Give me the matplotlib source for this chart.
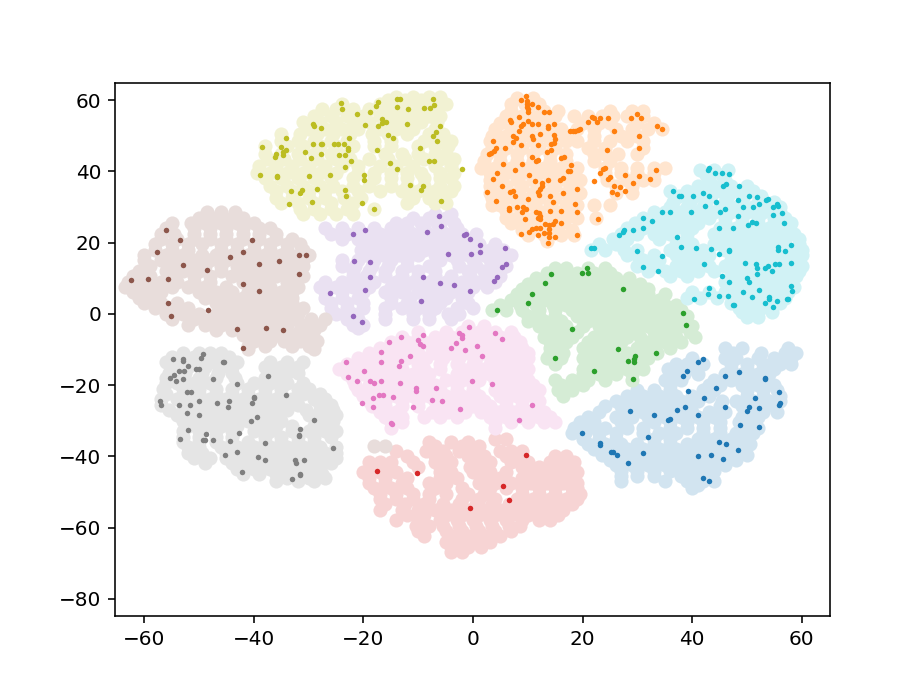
import matplotlib
matplotlib.use("Agg")
import matplotlib.pyplot as plt
from matplotlib.colors import to_rgb

# Labelled samples: (x, y)
olive_points = [(-24.1,59.1),(-23.9,57.5),(-17.3,59.5),(-17.8,58.3),(-21.2,56.2),(-18.9,56.6),(-13.9,60.4),(-13.4,60.4),(-7.3,60.4),(-7.1,58.7),(-7.8,57.8),(-8.9,57.8),(-11.8,57.5),(-13.9,58.2),(-16.7,54.8),(-16.7,53.7),(-15.9,53.8),(-17.3,52.6),(-19.7,53),(-12,53.4),(-6,52.6),(-6.8,51),(-7.3,49.8),(-6.6,48.5),(-15.5,50.1),(-14.7,49.3),(-29.3,53.4),(-29.1,52.6),(-27.8,52.2),(-34.1,49.4),(-22.6,49.4),(-38.6,46.9),(-35.1,46.9),(-34.1,46.1),(-34.6,45.3),(-34.6,44.5),(-35.9,44.9),(-36.2,44),(-30.7,45.3),(-29.6,43.7),(-29.3,47.7),(-27.8,47.7),(-27.5,47.7),(-25.4,47.7),(-24.6,47.7),(-23.6,47.7),(-22.8,46.5),(-22.8,45.9),(-27.8,44.9),(-24.4,44.5),(-23.3,44.5),(-22.3,42.8),(-23.3,41.2),(-17.6,46.1),(-15.2,42.4),(-13.9,40.8),(-9.7,46.5),(-8.1,42.8),(-7.1,42.8),(-2.1,40.8),(-38.9,39.1),(-35.7,38.8),(-35.7,38.3),(-29.9,38.8),(-26.2,39.1),(-19.9,39.1),(-19.9,37.5),(-33.3,34.4),(-31.2,34.7),(-31.5,33.9),(-28.4,35.1),(-23.3,34.7),(-23.1,33),(-33.6,30.7),(-29.4,31.4),(-20.2,31),(-18.1,29.4),(-11.5,36.3),(-9.2,36),(-9.5,34.7),(-5.8,31.8)]
orange_points = [(9.7,61.2),(8.7,60),(9.8,59.8),(10.7,59),(9.8,58.9),(9.8,58.1),(10.1,57.5),(10,56.8),(11.8,58.2),(12.9,56.7),(13.8,56.7),(8.4,55.4),(6.7,54.4),(7,53.9),(10,54.2),(10.7,53.4),(11.8,53.4),(9.2,53.4),(8.7,52.8),(8.4,51.4),(14.7,53.4),(13.7,52.8),(13.7,52.1),(12.3,50.6),(10.7,50),(11,49),(7.3,50),(7.9,49.5),(7.3,48.2),(3.6,48.5),(14.7,50.1),(15,49),(14.7,48.1),(14.2,47.6),(8.7,47.3),(11.8,47.3),(5.8,46.5),(4.1,46.5),(3.8,45.7),(3.3,45.2),(2.9,44.9),(14.2,46.1),(13.4,45.3),(10.7,44),(11.8,43.3),(11.5,42.8),(16,43.7),(16.6,44),(5.5,42.1),(8.9,42.1),(17.8,41.7),(7.6,40.4),(4.4,39.6),(3.6,37.9),(10.2,38.9),(17.4,40),(17.6,40),(16.5,38),(15.8,37.5),(13.6,37.5),(11.3,37.2),(12.6,36.7),(12.6,35.9),(12.3,35),(11.8,34.3),(12,33.5),(5.2,36),(2.6,34.3),(6.7,34.3),(7.3,34.6),(7.6,33),(4.2,31.8),(10,32.2),(14.1,33),(14.6,31.4),(16.5,33.9),(18.9,35.1),(18.6,30.7),(18.9,28.6),(6.6,29.8),(6.6,29.2),(8.1,29.9),(9.2,29.9),(9.7,29.5),(8.9,28.6),(9.5,26.6),(11.5,28.6),(12,28.2),(12.3,27.4),(11.8,26.9),(12.3,26.6),(14.1,29),(16,29),(15,26.1),(14.6,25.3),(16,25.4),(13.1,25.3),(12.3,24.1),(13.9,24.9),(13.9,23.7),(13.9,22.7),(13.9,21.7),(13.7,20),(12.9,22.7),(11.4,24),(10.7,23.7),(10.2,22.9),(8.7,22.5),(11.8,22),(15,21.7),(18.9,22),(22.8,26.6),(17.6,51.4),(18.2,51.4),(18.6,51.4),(19.2,51.6),(19.5,52),(21.7,55.4),(22,54.9),(23.1,54.9),(24.6,54.9),(21,53.9),(22.6,53.9),(25.7,51.4),(28.9,54.9),(30,56.2),(30.7,54.9),(33.6,52.7),(34.4,51.8),(30.2,49.8),(30.2,46.5),(24.4,46.1),(24,41),(23.7,40.8),(23.1,39.6),(22,37.2),(25,38.4),(24.6,37.9),(27.8,39.1),(30.2,38.8),(32.2,37.9),(33.3,40.4),(29.1,36.7),(25.7,36),(26.8,35.5),(25.4,34.3),(26.2,33.7),(27.8,34.6)]
cyan_points = [(43,41),(42.8,40.4),(44.1,39.6),(45.4,39.6),(46.7,39.3),(45.6,36),(46.2,36.4),(48.5,36),(36.4,34.4),(37.5,33.2),(38,33.2),(40.1,33.2),(42,34),(43,33.2),(44.3,31.5),(42.4,30.3),(45.9,29.5),(45.1,28.7),(39.8,28.7),(34.4,28.7),(35.9,28.7),(31,27),(32.6,26.2),(31,24.2),(29.1,23.4),(27.5,23.4),(27.3,22.9),(26.7,22.2),(37.2,21.7),(48.3,31.9),(50.3,33.2),(51.9,32.7),(53.8,32.3),(53.5,31.9),(52.2,30.7),(51.1,29.9),(49.3,29.9),(55.4,30.7),(54.8,29.9),(55.6,30.3),(56.4,28.3),(54.8,27.8),(48.3,27.4),(50.9,25.8),(51.7,25.5),(50.1,25),(56.7,25.5),(47.5,24.2),(44.8,24.2),(21.5,18.5),(22,18.5),(29.9,17.7),(38,18.9),(40.6,18.5),(43.5,18.1),(44.9,16.8),(46.7,18),(46.7,17.7),(34.4,16.1),(31,13.2),(33.8,12),(42.2,14),(55.6,18.9),(55.6,18),(58,19.4),(57,17.7),(49.6,14.4),(51.7,14),(51.9,12.8),(53.3,12.8),(53.8,13.5),(55.1,14),(55.9,14),(58,14.4),(54.5,12),(51.9,11.2),(45.4,10.7),(49.9,10),(50.3,8.8),(46.7,8.8),(43,7.2),(42.8,5.5),(40.4,4.2),(44.9,5.1),(46.5,5.1),(49.3,6),(50.9,4.7),(52.2,6.7),(47.5,2.6),(47.7,2.6),(54,4.7),(54,4.2),(53.3,3),(55.4,3.5),(54.8,1.8),(57.2,4.2),(57.4,4.2),(58,7.9),(58.2,6.3)]
brown_points = [(-56.1,23.5),(-53.5,20.6),(-57.7,17.3),(-40.4,20.6),(-44.3,16),(-41.9,17.3),(-39.1,14.1),(-35.4,14.8),(-31.7,16.4),(-30.4,16.4),(-31.7,11.2),(-53,13.6),(-48.5,12.4),(-62.4,9.6),(-59.3,9.9),(-55.6,9.9),(-41.9,8.3),(-39.1,6.3),(-55.6,3.1),(-55.1,-0.6),(-48.3,1),(-43,-4.2),(-37.8,-3.9),(-34.6,-4.6),(-41.9,-9.5)]
purple_points = [(-6.3,27.4),(-5.8,24.6),(-8.4,23),(-19.7,23.4),(-22,22.5),(-1.3,22.5),(-1.6,22.2),(-.6,20.9),(1.3,19.3),(1.3,17.3),(-.3,16.9),(-4.5,16.9),(5.8,18.5),(6,14.1),(5.2,13.2),(4.4,10.4),(3.9,9.2),(-.6,6.3),(-3.5,8),(-6.1,8.7),(-9.2,10.4),(-9.5,3.5),(-21.8,14.8),(-18.9,14.5),(-18.9,10.4),(-19.7,6.8),(-26.2,5.9),(-22,-.6),(-20.2,-2.2)]
green_points = [(20.7,12.8),(19.9,11.5),(21,11.5),(14.2,11.2),(13.1,8.7),(27.3,7.1),(10.8,5.5),(10,3.1),(4.4,1),(38.3,.3),(38.8,-3),(18.1,-4.2),(26.5,-9.9),(33.3,-11.1),(29.6,-11.8),(29.4,-12.7),(28.3,-13.2),(29.4,-13.5),(15,-12.3),(22,-16),(29.1,-18.4)]
pink_points = [(-.7,-3.8),(-9.1,-5.8),(-13.1,-6.6),(-15.4,-7.9),(-10,-7.3),(-9.7,-8.5),(-9.1,-9),(-2.6,-5.4),(-2.1,-5.8),(-2.1,-6.7),(-3.1,-8.3),(-4.1,-9.5),(-1.5,-10.2),(.8,-9),(4,-5.4),(5.3,-7),(1.6,-11.9),(-16.8,-10.7),(-16.8,-13.5),(-11.5,-11.9),(-13.1,-13.1),(-13.6,-14.7),(-23.1,-13.5),(-19.9,-16.1),(-22.8,-17.7),(-21.2,-18.9),(-18.9,-18.9),(-18.1,-19.3),(-16.8,-18.9),(-13.4,-19.3),(-10.5,-20.9),(-10.5,-21.7),(-6.8,-20.8),(-.2,-18.9),(3.4,-19.7),(-17.1,-22.9),(-16.5,-22.9),(-18.3,-23.7),(-14.6,-23.3),(-20.2,-25),(-18.3,-26.2),(-11,-26.2),(-7.5,-24.1),(-5.7,-24.5),(-2.3,-26.6),(10.8,-25.7),(8.4,-29.9),(-15,-30.6),(-14.8,-30.9)]
blue_points = [(42,-12.7),(41,-13.5),(39.1,-16),(38.3,-17.5),(45.9,-17.5),(48.5,-16.3),(53.2,-17.9),(53.2,-18.4),(44.3,-20.8),(39.3,-21.7),(42.2,-23.6),(51.4,-23.6),(55.9,-22),(56.1,-24.9),(55.9,-25.6),(38.6,-26.1),(37.3,-26.9),(45.9,-26.1),(50.3,-26.1),(52.2,-26.5),(49.9,-27.3),(28.6,-27.3),(33,-28.5),(41,-28.5),(36,-29.4),(35.6,-29.8),(48.8,-31.3),(52.2,-31.8),(19.9,-33.4),(32,-34.6),(23.1,-36.3),(23.1,-36.7),(44.9,-35.9),(46.2,-36.6),(48.3,-38.3),(25.1,-38.7),(25.6,-38.7),(26.2,-39.5),(31,-39),(28.3,-42),(41,-39.9),(43.5,-39.5),(45.7,-40.7),(42,-46),(43,-46.8)]
gray_points = [(-49.3,-11.4),(-49.7,-12.3),(-54.8,-12.7),(-53,-12.7),(-53,-13.1),(-45.7,-13.5),(-45.5,-13.5),(-52,-14.7),(-50.5,-15.5),(-50,-15.5),(-53.7,-16),(-52.7,-16),(-54.5,-17.2),(-55.3,-17.9),(-54.2,-18.8),(-53,-18.4),(-47.4,-18.4),(-43,-19.6),(-37.5,-17.5),(-52.2,-22),(-51.4,-22),(-34.1,-22.9),(-39.9,-23.3),(-39.9,-23.6),(-40.3,-24.9),(-57.2,-24.5),(-56.9,-25.7),(-53.7,-25.7),(-51.6,-25.7),(-50.1,-24.5),(-46.7,-24.9),(-44.6,-24.5),(-44.8,-26.1),(-52.2,-27.7),(-50.1,-28.5),(-39.5,-29),(-40.6,-30.1),(-29.1,-29.7),(-31.5,-32.2),(-31.7,-33.9),(-31.7,-34.3),(-52,-32.6),(-42.7,-33.4),(-48.8,-33.8),(-53.5,-35.1),(-49.3,-35.4),(-48.9,-35.4),(-47.4,-35.4),(-44.3,-35.8),(-38,-36.2),(-25.5,-37.8),(-43,-38.7),(-45.3,-39.5),(-39.3,-40.3),(-38,-41.1),(-32.5,-41.1),(-32.3,-42),(-30.9,-41.1),(-42.2,-44.4),(-31.5,-44.9),(-31.5,-45.2),(-33,-46.4)]
red_points = [(-17.6,-44),(-10.3,-44.7),(9.6,-39.5),(5.5,-48.4),(6.6,-52.4),(-.6,-54.5)]

# Unlabelled cloud samples, read by row: (y, [x, ...])
olive_cloud = [(61,[-14,-11,-8,-6]),(60,[-15.5,-12.5,-9.5,-7]),(59,[-24,-17,-14,-11,-8,-5]),(57.5,[-27.5,-25,-22,-19,-15.5,-12.5,-9.5,-6.5]),(55.5,[-29,-26,-23,-20,-17,-14,-11,-8,-6]),(54,[-31,-28,-25,-22,-19,-15.5,-12.5,-9.5,-6.5]),(52,[-30,-27,-24,-21,-17,-14,-11,-7]),(50.5,[-35,-31.5,-28.5,-25.5,-22.5,-18.5,-15.5,-12,-8,-5.5]),(48.5,[-35,-32,-29,-26,-23,-18,-15,-9,-6,-4]),(47,[-38,-34,-31,-28,-25,-22,-18,-15,-10,-7,-4.5]),(45,[-38,-35,-32,-29,-26,-23,-16,-13,-10,-7,-5]),(43.5,[-37.5,-34.5,-31.5,-28.5,-25,-22.5,-19,-15.5,-12.5,-9,-6,-3.5]),(41.5,[-39,-36,-33,-30,-27,-24,-21,-17,-14,-11,-7,-4]),(39.5,[-39.5,-37,-34,-31,-28,-25,-21,-18,-15,-12,-9.5,-6,-3.5]),(38,[-38,-35,-32,-29,-26,-22,-18,-15,-12,-9,-6,-4]),(36,[-37,-34,-31,-28,-25.5,-22,-19,-15,-12,-9,-6,-3.5]),(34.5,[-36,-33,-30,-27,-24,-21,-17,-13,-10,-7,-4]),(32.5,[-36,-33,-30,-27,-23.5,-20.5,-11,-8,-5.5]),(31,[-35,-32,-29,-26,-22,-12,-7,-5]),(29.5,[-31.5,-29,-26,-23,-18]),(28,[-31,-28,-25,-22])]
orange_cloud = [(60.5,[8,11]),(59,[7,9.5,12]),(57,[7,10,13,15.5,25,29,31]),(55.5,[6,9,12,15,18.5,21,23.5,25.5,28,31]),(53.5,[5,8,11,14,20,23,25,30,33]),(52,[4,7,10,13,16,19,22,26,29,32,34.5]),(50,[3.5,6,9,12,15,18,22,27,30]),(48.5,[3,5,8,11,14,17,19,22,25,28,31]),(46.5,[3.5,6,9,12,15,21,24,31]),(45,[2.5,5,8,11,14,17,22,24,26.5,30]),(43,[2,5,8,11,14,17,22,25]),(41,[1.5,4,7,10,13,16,19,24,27,30,33,35]),(39.5,[3,6,9,12,15,18,24,27,30,33]),(37.5,[3,5,8,11,14,17,19.5,24.5,28,31,33]),(36,[3,6,9,12,15,18,26,29]),(34,[3,5,8,11,14,17,19.5,26,29]),(32.5,[3.5,6,9,12,15,18]),(30.5,[3.5,5,8,11,14,17,19,22,25]),(29,[6,9,12,15,18]),(27,[6,8,11,14,17,19,22.5]),(25.5,[7,10,13,16]),(23.5,[9,12,15,18]),(22,[10,13,16,18.5]),(20.5,[13.5])]
cyan_cloud = [(40.5,[41.5,44,46.5]),(39,[42.5,45.5]),(37.5,[43,46]),(36,[41,44,47,50]),(34.5,[36,39,42,45,48,51]),(33,[37.5,40.5,43.5,46.5,49.5,52.5]),(31.5,[36.5,39.5,42.5,46,49,52,55]),(30,[36,39,42,45,48,51,54,56]),(28.5,[33,35,38,41,44,47,50,53,56]),(27,[31,34,37,40,43,46,49,52,55,57]),(25.5,[29.5,32.5,35.5,38.5,41,46,49,52,55,58]),(24,[28,31,34,37,40,45,48,51,54,57]),(22.5,[27,30,33,36,39,44,47,50,53,56,58.5]),(21,[25.5,28,34,39,45,48,51,54,57,59.5]),(19.5,[23,26,37,40,44,47,50,53,56,59.5]),(18,[21.5,24,27.5,30,36,39,42,46,49,52,55,58,60]),(16.5,[28,30,33,37,40,43,48,51,54,57,60]),(15,[31,34,39,42,47,50,53,56,59]),(13.5,[30,33,37,40,43,46,49,52,55,58,60]),(12,[32,35,38,41,44,48,51,54,57,59.5]),(10.5,[36,39,47,50,53,56,59]),(9,[46,49,52,55,58]),(7.5,[47.5,50.5,53.5,56.5,58.5]),(6,[40,43,46,49,52,55,57.5]),(4.5,[39,41.5,44.5,48,51,54,57]),(3,[47,50,53,56]),(1.5,[48.5,51,54]),(.5,[49,52,54.5]),(-1,[50,52])]
brown_cloud = [(28.5,[-48.5,-46,-43.5]),(27,[-50,-47,-44,-42]),(25.5,[-55,-51.5,-49,-46,-43,-40]),(24,[-56,-51,-48,-45,-42,-39,-37]),(22.5,[-57,-54.5,-51,-48,-45,-42,-39,-36]),(21,[-57,-54,-51,-48,-45,-42,-39,-36,-33]),(19.5,[-58,-55,-52,-49.5,-46,-43,-40,-37,-34,-31.5]),(18,[-58,-55,-52,-46,-43,-40,-37,-34,-31]),(16.5,[-60,-56,-53,-49.5,-47,-44,-41,-38,-35,-32,-30]),(15,[-60,-57,-54,-51,-48,-45,-42,-39,-36,-33,-31]),(13.5,[-59,-55,-52,-49,-46,-43,-40,-37,-34,-31]),(12,[-61,-56,-53,-50,-46,-42,-38,-35,-33]),(10.5,[-62,-59,-55,-51,-48,-44,-40,-36,-33,-31]),(9,[-63,-60,-57,-54,-51,-48,-42,-38,-34]),(7.5,[-63.5,-61,-58,-55,-52,-49,-45,-40,-37,-34,-32]),(6,[-62,-59,-57,-50,-47,-44,-41,-38,-35,-33]),(4.5,[-61,-58,-49,-46,-42,-39,-36,-33]),(3,[-60,-57,-54,-47,-44,-41,-38,-35,-33]),(1.5,[-58,-55,-52,-45,-42,-39,-36,-33,-31]),(0,[-56,-53,-50,-47,-43,-40,-37,-34,-32]),(-1.5,[-55,-51,-48,-45,-41.5,-38.5,-35.5,-32.5,-29.5,-27]),(-3,[-52,-49,-46,-43,-40,-37,-34,-31,-28]),(-4.5,[-47,-44,-41,-38,-35,-31.5,-29]),(-6,[-42,-39,-36,-33,-30]),(-7.5,[-40,-37,-34.5,-31.5,-28.5]),(-9,[-41,-38,-33,-30]),(-10,[-41,-29]),(-37,[-18,-16])]
purple_cloud = [(28,[-7,-4]),(27,[-11,-8,-5]),(25.5,[-14,-12,-9.5,-6.5,-3.5]),(24,[-27,-24,-21,-18,-15,-12,-9,-6,-3]),(22.5,[-26,-23,-20,-17,-14,-11,-8,-5,-2,.5]),(21,[-24,-21,-18,-15,-12,-9,-6,-3,0]),(19.5,[-20,-17,-14,-11,-8,-5,-2,1,4]),(18,[-20.5,-18,-15,-12,-9,-6,-3,0,3,5.5]),(16.5,[-19.5,-16.5,-13.5,-10,-7,-4,-1,2,5,7]),(15,[-24,-21,-18,-15,-12,-6,-3,0,3,5.5]),(13.5,[-24,-21.5,-18.5,-15.5,-12,-8,-2.5,.5,3.5,6]),(12,[-22,-19,-16,-13,-10,-7,-1,2,5]),(10.5,[-22,-19.5,-16,-13,-10,-7,-4,-.5,2.5,5]),(9,[-27,-24,-21,-18,-14,-11,-8,-5,-2,1,4]),(7.5,[-28,-25,-22,-19,-15,-12.5,-9,-6,-3,0,2.5]),(6,[-27,-24,-20,-16,-13,-10,-7,-4,-1]),(4.5,[-27,-24,-21,-15,-11.5,-8,-5,-2]),(3,[-26,-23,-20,-15,-12,-9,-6,-1]),(1.5,[-26,-23,-20,-16,-13,-10,-7,-3,0]),(0,[-25,-22,-16,-11,-8,-4.5,-2.5]),(-1.5,[-23,-21,-16,-11,-8,-4]),(-3,[-22,-20]),(-4,[-21])]
green_cloud = [(13,[15,17,21,24]),(11.5,[13.5,16,19,22,25]),(10,[11.5,14,17,20,23,26,28.5]),(8.5,[10,13,16,19,22,25,28,30.5]),(7,[9,12,15,18,21,24,27,30,32]),(5.5,[8,11,14,17,20,23,26,29,32,35]),(4,[7,10,13,16,19,22,25,28,31,34]),(2.5,[5,8.5,11.5,14.5,17,20,23,26,29,32,35,37]),(1,[3.5,6,9,12,15,18,21,24,27,30,33,36,38]),(-.5,[10,12,15,19,22,25,28,31,34,37,39]),(-2,[10,13,16,21,24,27,30,33,36,38.5]),(-3.5,[12,15,17,20,23,26,29,32,35,38,40]),(-5,[14,17,19,24,27,30,33,36,39.5]),(-6.5,[13,16,18,22,25,28,30.5,34,37,40.5]),(-8,[14,17,21,24,27,32,35,38]),(-9.5,[14,16,20,23,25,30,33,36]),(-11,[14,16.5,22,24.5,28,31,33.5]),(-12.5,[13.5,16,20,23,26,29,32]),(-14,[15,21,24,27,30]),(-15.5,[20,22,25,28,31]),(-17,[20,23,26,29]),(-18.5,[15,18,21,24,29]),(-20,[16,18,20]),(-21.5,[15.5,18]),(-23,[16.5])]
pink_cloud = [(-3.5,[-1,2]),(-5,[-10,-5,-2,1,4,7]),(-6.5,[-13,-10,-7,-4,-1,2,5,7.5]),(-8,[-15,-12,-9,-6,-3,0,3,6,8.5]),(-9.5,[-17,-14,-11,-7.5,-5,-2,1,4,7,9]),(-11,[-19,-16,-13,-10,-7,-4,-1,2,5,8,10]),(-12.5,[-21,-18,-15,-12,-8.5,-5.5,-2.5,.5,4,7,10]),(-14,[-23,-20,-17,-14,-10,-6,-3,0,3,6,9]),(-15.5,[-24.5,-22,-19,-16,-13,-9,-6,-2,1.5,4.5,7.5,10]),(-17,[-23,-20,-17,-14,-11,-8,-3,0,3,6,9]),(-18.5,[-22,-18,-15,-12,-9,-5,-2,1,4,7,10]),(-20,[-21.5,-19,-16,-13,-10,-7,-3,0,5,8,11]),(-21.5,[-21,-18,-15,-12,-9,-6,-3,0,4,7,10,12]),(-23,[-20,-17,-14,-11,-8,-5,-2,1,5,8,11]),(-24.5,[-19,-16,-13,-10,-7,-4,-1,2,6,9,12]),(-26,[-18.5,-16,-13,-10,-6,-3,0,3,6,9,11.5]),(-27.5,[-17,-14,-7.5,-4.5,-1.5,1.5,4.5,7.5,10.5,13]),(-29,[-16,-13,-9,-6,-3,3,6,9,12,14]),(-30.5,[-15,-13,4,7,10,13,15]),(-32,[-15,4])]
blue_cloud = [(-9.5,[46,49,57.5]),(-11,[47.5,52.5,57,59]),(-12.5,[40,46,48,52,55,58]),(-14,[37,39,42,47,50,53,56,58]),(-15.5,[35.5,38,40.5,47,50,53,55]),(-17,[36,38.5,41,46,49,52,54]),(-18.5,[35,38,44,47,50,53]),(-20,[36,43,45,49,52,55]),(-21.5,[30,33,36,42,44,50,53,55.5]),(-23,[28,31,34,37,40,43,50,53,56]),(-24.5,[26,29,32,35,38,41,45.5,48,51,54,56]),(-26,[24,27,30,33,36,39,45,49,52,55]),(-27.5,[23,28,31,34,37,40,43,46,50,53,55.5]),(-29,[21,26,29,32,35,38,41,44,49,52]),(-30.5,[19.5,22,27,33,36,39,42,45,48.5,51]),(-32,[18.5,21,24,28,31,36,39,42,45,49,52]),(-33.5,[18,20.5,23,26,31,34,37,42,45,48,51]),(-35,[20,23,26,33,36,41,44,47,49]),(-36.5,[21,24,27,30,33,36,39,42,45,48,50.5]),(-38,[22,25,28,31,34,37,40,43,46,49]),(-39.5,[23.5,26.5,29.5,32.5,35.5,38.5,41.5,44.5,47.5,50]),(-41,[25,28,31,34,37,40,43,46,48]),(-42.5,[26,29,32,35,38,41,44,46]),(-44,[27,30,33,36,39,42,44]),(-45.5,[27,30,33,38,41,43.5]),(-47,[27,35,39,42,44]),(-48,[41]),(-49,[40])]
gray_cloud = [(-11,[-53,-50,-48,-46]),(-12,[-55,-53,-51,-49,-46,-44.5]),(-13.5,[-56,-53.5,-50.5,-47.5,-45,-43,-37,-34,-31]),(-15,[-55,-52,-49,-46,-44,-38,-35,-32]),(-16.5,[-55.5,-52.5,-49.5,-46.5,-44,-37,-34,-32]),(-18,[-56,-53,-50,-47,-43.5,-38,-36]),(-19.5,[-56,-54,-51,-48,-43,-40,-37,-34,-31]),(-21,[-56.5,-53,-50,-47,-44,-41,-38,-35,-32,-30]),(-22.5,[-56,-53,-50,-47,-44,-41,-38,-35,-31,-28]),(-24,[-57,-54,-51,-48,-45,-42,-39,-36,-33,-29,-27]),(-25.5,[-57,-53,-50,-47,-44,-41,-38,-35,-32,-28,-26]),(-27,[-55.5,-52,-49,-46,-43,-40,-37,-34,-30.5,-28,-25.5]),(-28.5,[-54,-51,-48,-45,-42,-39,-36,-30,-27,-25]),(-30,[-53,-50,-47,-44,-41,-38,-35,-28,-25.5]),(-31.5,[-52,-49,-46,-43,-39,-36,-33,-29,-26]),(-33,[-53,-50,-47,-44,-40,-37,-33,-30,-27,-25]),(-34.5,[-53,-50,-47,-44,-38,-35,-32,-29,-26]),(-36,[-53,-50,-47,-44,-41,-38,-35,-32,-29]),(-37.5,[-52,-50,-46,-43,-40,-37,-34,-31,-28,-25]),(-39,[-52,-49.5,-45,-42,-39,-36,-33,-30,-27,-25]),(-40.5,[-51,-48,-45,-43,-40,-37,-34,-31,-28,-25]),(-42,[-49,-44,-41,-38,-35,-32,-29,-26]),(-43.5,[-43,-40,-37,-34,-31,-28]),(-45,[-42,-39,-36,-33,-30,-27.5]),(-46,[-34,-30,-27]),(-47,[-36,-32,-29])]
red_cloud = [(-35,[4,6]),(-36,[-8,-4,-1]),(-37,[-7,-2,1]),(-38.5,[-14,-8.5,-5.5,-2.5,0,5,7,9]),(-40,[-12,-7,-5,-1,2,6,9,15,17]),(-41.5,[-19,-17,-15,-11,-7,-4,1,3,7,10,14,16,18.5]),(-43,[-18,-16,-10,-6,-.5,2,9,12,15,18]),(-44.5,[-20,-17,-14,-6,-4,0,3,6,10,13,16,19]),(-46,[-19,-16,-12,-6,-3,2,5,9,12,15,18]),(-47.5,[-19,-16,-13,-8,-5,1,4,7,10.5,13.5,16.5,19]),(-49,[-18,-15,-12,-7,-2,3,6,9,12,15,18,19]),(-50.5,[-17,-14,-11,-8,-5,-1,2,9,12,15,18,19.5]),(-52,[-17,-14,-11,-8,-2,1,4,8,11,14,17,19]),(-53.5,[-16,-12.5,-9,-5.5,-2.5,.5,3.5,6.5,9.5,12.5,15.5,18]),(-55,[-17,-13,-10,-7,-4,-1,2,5,8,11,14,16.5]),(-56.5,[-12,-9,-5,-2,1,4,7,10,13,15.5]),(-58,[-14,-10,-6,-3,0,3,6,9,12,14]),(-59.5,[-10.5,-8,-5.5,-2.5,.5,3.5,6.5,8.5]),(-61,[-10,-5,-2,1,4,7]),(-62.5,[-9,-4,-1,2,5]),(-64,[-5,-2,1,3]),(-65.5,[-4,-1,1.5]),(-67,[-4,-2])]

classes = [
    ("tab:blue", blue_points, blue_cloud), ("tab:orange", orange_points, orange_cloud),
    ("tab:green", green_points, green_cloud), ("tab:red", red_points, red_cloud),
    ("tab:purple", purple_points, purple_cloud), ("tab:brown", brown_points, brown_cloud),
    ("tab:pink", pink_points, pink_cloud), ("tab:gray", gray_points, gray_cloud),
    ("tab:olive", olive_points, olive_cloud), ("tab:cyan", cyan_points, cyan_cloud),
]

def pale(color, a=0.2):
    return tuple(1 - a + a * c for c in to_rgb(color))

fig = plt.figure(figsize=(922 / 144, 692 / 144), dpi=144)
ax = fig.add_subplot(111)
for color, points, cloud in classes:
    cx = [x for y, xs in cloud for x in xs]
    cy = [y for y, xs in cloud for _ in xs]
    ax.scatter(cx, cy, s=50, color=pale(color), linewidths=0, zorder=1)
for color, points, cloud in classes:
    ax.scatter([p[0] for p in points], [p[1] for p in points], s=7.5, color=color, linewidths=0, zorder=2)
ax.set_xlim(-65.3, 65.1)
ax.set_ylim(-84.8, 64.8)
fig.savefig("out.png", dpi=144)
